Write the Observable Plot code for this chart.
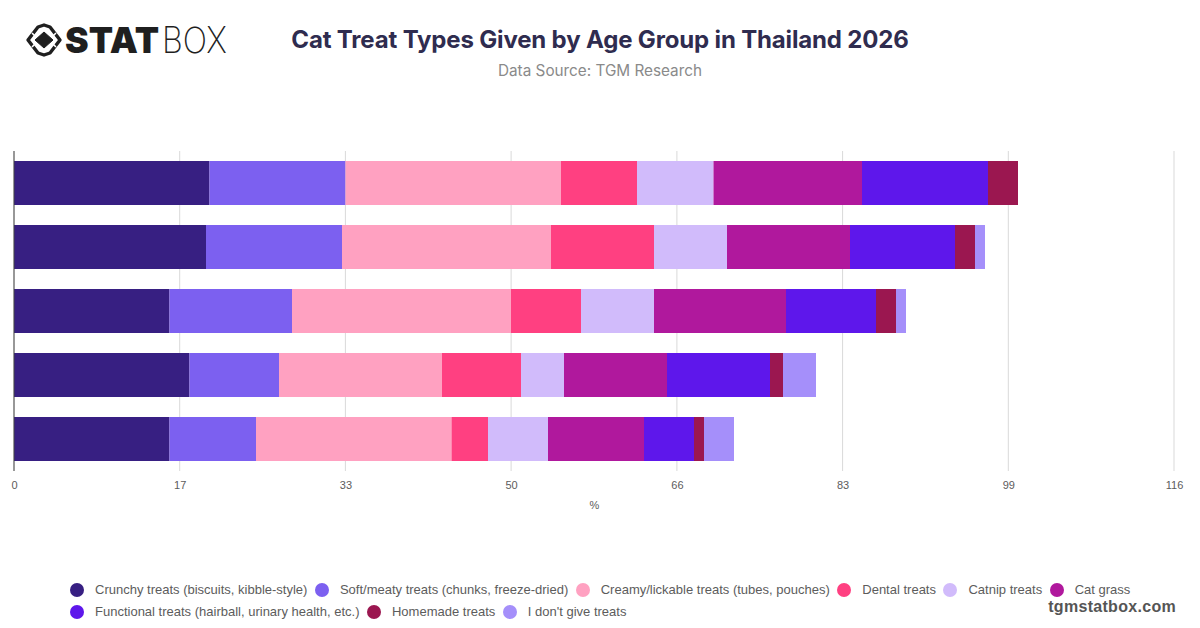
<!DOCTYPE html>
<html><head><meta charset="utf-8">
<script src="https://cdn.jsdelivr.net/npm/d3@7"></script>
<script src="https://cdn.jsdelivr.net/npm/@observablehq/plot@0.6"></script>
<style>
html,body{margin:0;padding:0;background:#fff;width:1200px;height:628px;overflow:hidden;font-family:"Liberation Sans",Arial,sans-serif}
#title{position:absolute;left:0;width:1200px;top:23px;text-align:center;font:700 24px/34px Inter,"Liberation Sans",sans-serif;letter-spacing:-.16px;color:#2f2c4f}
#sub{position:absolute;left:0;width:1200px;top:61px;text-align:center;font:400 15.3px/20px Inter,"Liberation Sans",sans-serif;color:#8a8a8a}
#chart{position:absolute;left:0;top:100px}
#logo{position:absolute;left:24px;top:18px}
#legend{position:absolute;left:70px;top:578.5px;width:1090px;display:flex;flex-wrap:wrap;row-gap:0;font:13px/22px "Liberation Sans",sans-serif;color:#5c5c5c}
.it{display:flex;align-items:center;margin-right:7.5px;white-space:nowrap}
.dot{width:14px;height:14px;border-radius:50%;margin-right:11px}
#site{position:absolute;right:24px;top:597px;font:700 16px/20px "Liberation Sans",sans-serif;color:#555;letter-spacing:.3px}
</style></head><body>
<svg id="logo" width="210" height="44" viewBox="0 0 210 44">
<path d="M14 9 L20 7 L26 9 L36 22 L26 35 L20 37 L14 35 L4 22Z" fill="none" stroke="#1f1f1f" stroke-width="3.4" stroke-linejoin="round"/>
<path d="M20 14 L29 22 L20 30 L11 22Z" fill="#1f1f1f" stroke="#1f1f1f" stroke-width="1"/>
<path d="M8 15 L12 19 M32 15 L28 19 M8 29 L12 25 M32 29 L28 25" stroke="#fff" stroke-width="1.6"/>
<text x="41" y="35" font-family="Inter,'DejaVu Sans',sans-serif" font-weight="900" font-size="36" textLength="94" lengthAdjust="spacingAndGlyphs" fill="#1f1f1f">STAT</text>
<text x="138" y="35" font-family="Inter,'Liberation Sans',sans-serif" font-weight="200" font-size="36" textLength="65" lengthAdjust="spacingAndGlyphs" fill="#1f1f1f">BOX</text>
</svg>
<div id="title">Cat Treat Types Given by Age Group in Thailand 2026</div>
<div id="sub">Data Source: TGM Research</div>
<div id="chart"></div>
<div id="legend"></div>
<div id="site">tgmstatbox.com</div>
<script>
const groups = ["Group 1","Group 2","Group 3","Group 4","Group 5"];
const seriesNames = ["Crunchy treats (biscuits, kibble-style)","Soft/meaty treats (chunks, freeze-dried)","Creamy/lickable treats (tubes, pouches)","Dental treats","Catnip treats","Cat grass","Functional treats (hairball, urinary health, etc.)","Homemade treats","I don't give treats"];
const colors = ["#371f82","#7c60f0","#ffa1c1","#ff4081","#d1bbfb","#b0189d","#5e17eb","#9b1750","#a58ffa"];
const crunchy = [19.55,19.2,15.55,17.55,15.55];
const soft = [13.6,13.6,12.25,8.95,8.65];
const creamy = [21.55,20.9,21.9,16.3,19.55];
const dental = [7.6,10.3,7.0,7.9,3.65];
const catnip = [7.65,7.3,7.3,4.3,6.0];
const grass = [14.85,12.3,13.2,10.3,9.6];
const functional = [12.6,10.5,9.0,10.3,5.0];
const homemade = [3.0,2.0,2.0,1.3,1.0];
const none = [0,1.0,1.0,3.3,3.0];
const xTicks = [0,16.57,33.14,49.71,66.29,82.86,99.43,116];
const all = [crunchy,soft,creamy,dental,catnip,grass,functional,homemade,none];
const rows = all.flatMap((vals,s)=>vals.map((v,g)=>({series:seriesNames[s],group:groups[g],value:v}))).filter(d=>d.value>0);
const plot = Plot.plot({
  width:1200,height:420,marginTop:51,marginBottom:49,marginLeft:14,marginRight:26,
  style:{fontFamily:'"Liberation Sans",sans-serif',fontSize:"11px",background:"#fff",overflow:"visible"},
  x:{domain:[0,116]},
  y:{domain:groups,axis:null,paddingInner:0.3125,paddingOuter:0.15625,round:false},
  color:{domain:seriesNames,range:colors},
  marks:[
    Plot.gridX(xTicks,{stroke:"#d9d9d9",strokeOpacity:1,strokeWidth:1,dx:-0.5}),
    Plot.barX(rows,{x:"value",y:"group",fill:"series",order:seriesNames}),
    Plot.ruleX([0],{stroke:"#444",strokeWidth:1,dx:-0.5}),
    Plot.axisX({ticks:xTicks,tickSize:0,tickPadding:10,tickFormat:d=>String(Math.round(d)),color:"#5c5c5c",label:"%",labelAnchor:"center",labelArrow:"none",labelOffset:37})
  ]
});
document.getElementById("chart").append(plot);
const lg=document.getElementById("legend");
seriesNames.forEach((n,i)=>{const e=document.createElement("div");e.className="it";
 const d=document.createElement("span");d.className="dot";d.style.background=colors[i];
 const t=document.createElement("span");t.textContent=n;e.append(d,t);lg.append(e);});
</script>
</body></html>
